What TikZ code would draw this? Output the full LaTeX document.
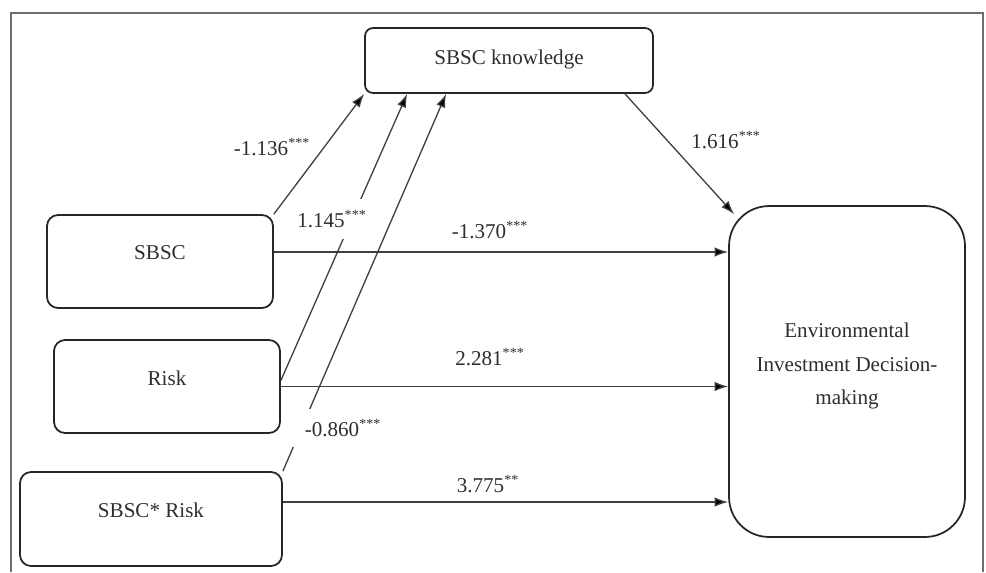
\documentclass[tikz,border=0pt]{standalone}
\usepackage{fontspec}
\setmainfont{Liberation Serif}
\usetikzlibrary{arrows.meta,calc}
\definecolor{ink}{HTML}{2E2E2E}
\definecolor{edge}{HTML}{262626}
\definecolor{wire}{HTML}{404040}
\definecolor{rim}{HTML}{6E6E6E}
\newcommand{\sig}[1]{\textsuperscript{#1}}
\tikzset{
  arr/.style={-{Latex[length=2.7mm,width=1.9mm,fill=black]},wire,line width=0.75pt},
  box/.style={draw=edge,line width=1pt,rounded corners=0.22cm,text=ink},
  coef/.style={text=ink,inner sep=1pt},
  gap/.style={coef,fill=white},
  rimline/.style={rim,line width=1.1pt},
}
\begin{document}
\begin{tikzpicture}[x=0.02cm,y=-0.02cm,font=\fontsize{12}{14}\selectfont]
  \useasboundingbox (0,0) rectangle (986,572);
  \draw[rimline] (11,572)--(11,13)--(983,13)--(983,572);
  % boxes
  \node[box,minimum width=5.76cm,minimum height=1.3cm,rounded corners=0.16cm,
        text height=8pt,text depth=4pt] (know) at (509,60.5) {SBSC knowledge};
  \node[box,minimum width=4.52cm,minimum height=1.86cm,
        text height=8pt,text depth=10.8pt] (sbsc) at (160,261.5) {SBSC};
  \node[box,minimum width=4.52cm,minimum height=1.86cm,
        text height=8pt,text depth=9.6pt] (risk) at (167,386.5) {Risk};
  \node[box,minimum width=5.24cm,minimum height=1.88cm,
        text height=8pt,text depth=10.2pt] (inter) at (151,519) {SBSC* Risk};
  \node[box,minimum width=4.72cm,minimum height=6.62cm,rounded corners=0.8cm,
        align=center,font=\fontsize{12}{19}\selectfont,text depth=8.7pt]
        (eidm) at (847,371.5) {Environmental\\Investment Decision-\\making};
  % end points
  \coordinate (s1) at ([yshift=0.19cm]sbsc.east);
  \coordinate (s3) at ([yshift=0.34cm]inter.east);
  \coordinate (r1) at ([yshift=0.12cm]risk.east);
  \coordinate (k2) at ([xshift=0.86cm]know.south west);
  \coordinate (k3) at ([xshift=1.64cm]know.south west);
  \coordinate (k4) at ([xshift=2.32cm]know.south);
  \coordinate (e0) at ([shift={(0.12cm,-0.18cm)}]eidm.north west);
  % paths
  \draw[arr] (sbsc.north east) -- (know.south west);
  \draw[arr] (r1) -- (k2);
  \draw[arr] (inter.north east) -- (k3);
  \draw[arr] (k4) -- (e0);
  \draw[arr] (s1) -- (s1 -| eidm.west);
  \draw[arr] (risk.east) -- (risk.east -| eidm.west);
  \draw[arr] (s3) -- (s3 -| eidm.west);
  % coefficients
  \node[coef] (c1) at (272,147) {-1.136\sig{***}};
  \node[gap,inner xsep=0.1cm,inner ysep=0.22cm] (c2) at (332,219) {1.145\sig{***}};
  \node[gap,inner xsep=0.3cm,inner ysep=0.2cm] (c3) at (343,428) {-0.860\sig{***}};
  \node[coef] (c4) at (726,140) {1.616\sig{***}};
  \node[coef] (c5) at (490,230) {-1.370\sig{***}};
  \node[coef] (c6) at (490,357) {2.281\sig{***}};
  \node[coef] (c7) at (488,484) {3.775\sig{**}};
\end{tikzpicture}
\end{document}
